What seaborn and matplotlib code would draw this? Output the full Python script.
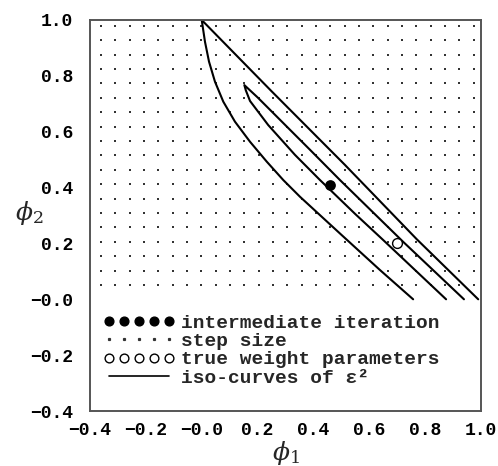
import numpy as np
import pandas as pd
import matplotlib
matplotlib.use("Agg")
import matplotlib.pyplot as plt
from matplotlib.lines import Line2D
from matplotlib.ticker import FixedLocator, FixedFormatter, MultipleLocator
import seaborn as sns

# lattice of candidate steps in the (phi1, phi2) plane
grid_phi1 = np.linspace(-0.361, 0.974, 27)
grid_phi2 = np.linspace(0.051, 0.979, 19)

# iso-curves of the squared error, traced as polylines
outer_phi1 = [0.757, 0.638, 0.50, 0.352, 0.292, 0.2327, 0.173, 0.119, 0.0773,
              0.0475, 0.0261, 0.0117, 0.0, 0.25, 0.513, 0.77, 0.99]
outer_phi2 = [0.0, 0.105, 0.231, 0.367, 0.427, 0.493, 0.564, 0.636, 0.7075,
              0.779, 0.851, 0.922, 1.0, 0.745, 0.481, 0.215, 0.0]
inner_phi1 = [0.939, 0.72, 0.495, 0.388, 0.20, 0.1526, 0.158, 0.173, 0.238,
              0.334, 0.4235, 0.55, 0.65, 0.875]
inner_phi2 = [0.0, 0.207, 0.427, 0.535, 0.723, 0.767, 0.748, 0.71, 0.624,
              0.517, 0.427, 0.305, 0.212, 0.0]

# current estimate and the true AR(2) weights
iterate_phi1, iterate_phi2 = [0.46], [0.41]
true_phi1, true_phi2 = [0.70], [0.20]

tick_values = [-0.4, -0.2, 0.0, 0.2, 0.4, 0.6, 0.8, 1.0]
tick_labels = ["\u22120.4", "\u22120.2", "\u22120.0", "0.2", "0.4", "0.6", "0.8", "1.0"]

legend_labels = ["intermediate iteration", "step size",
                 "true weight parameters", "iso-curves of \u03b5\u00b2"]

sns.set_theme(style="white")
plt.rcParams["font.family"] = ["Liberation Mono", "DejaVu Sans"]
plt.rcParams["mathtext.fontset"] = "dejavuserif"

fig = plt.figure(figsize=(4.98, 4.66), dpi=100)
ax = fig.add_axes([90 / 498, 55 / 466, 391 / 498, 391 / 466])

gx, gy = np.meshgrid(grid_phi1, grid_phi2)
grid_df = pd.DataFrame({"phi1": gx.ravel(), "phi2": gy.ravel()})
sns.scatterplot(data=grid_df, x="phi1", y="phi2", s=2.2, color="#333333",
                linewidth=0, marker="s", ax=ax, legend=False)

curves = pd.concat([
    pd.DataFrame({"phi1": outer_phi1, "phi2": outer_phi2, "curve": "outer"}),
    pd.DataFrame({"phi1": inner_phi1, "phi2": inner_phi2, "curve": "inner"}),
])
sns.lineplot(data=curves, x="phi1", y="phi2", units="curve", estimator=None,
             sort=False, color="black", linewidth=1.5, ax=ax, legend=False)

sns.scatterplot(x=iterate_phi1, y=iterate_phi2, s=60, color="black",
                linewidth=0, ax=ax, legend=False, zorder=5)
sns.scatterplot(x=true_phi1, y=true_phi2, s=50, facecolor="white",
                edgecolor="black", linewidth=1.0, ax=ax, legend=False, zorder=5)

ax.set_xlim(-0.4, 1.0)
ax.set_ylim(-0.4, 1.0)
for axis in (ax.xaxis, ax.yaxis):
    axis.set_major_locator(FixedLocator(tick_values))
    axis.set_major_formatter(FixedFormatter(tick_labels))
    axis.set_minor_locator(MultipleLocator(0.04))
ax.tick_params(which="both", direction="out", color="#444444", width=1.0,
               top=False, right=False, labelsize=13, labelcolor="black")
ax.tick_params(which="major", length=6, pad=2)
ax.tick_params(axis="y", which="major", pad=6)
ax.tick_params(which="minor", length=3.6)
for lab in ax.get_xticklabels() + ax.get_yticklabels():
    lab.set_fontweight("bold")
for sp in ax.spines.values():
    sp.set_color("#555555")
    sp.set_linewidth(1.4)

ax.set_xlabel(r"$\phi_1$", fontsize=18, va="top")
ax.set_ylabel(r"$\phi_2$", fontsize=18, rotation=0, va="center", ha="center")
ax.xaxis.set_label_coords(0.5, -0.072)
ax.yaxis.set_label_coords(-0.156, 0.506)

handles = [
    Line2D([], [], ls="none", marker="o", ms=6.3, mfc="black", mec="black"),
    Line2D([], [], ls="none", marker="s", ms=1.3, mfc="#333333", mec="#333333"),
    Line2D([], [], ls="none", marker="o", ms=6.3, mfc="white", mec="black", mew=1.0),
    Line2D([], [], color="black", lw=1.2),
]
ax.legend(handles, legend_labels, loc="upper left", bbox_to_anchor=(0.0325, 0.248),
          frameon=False, numpoints=5, handlelength=3.69,
          prop={"family": ["Liberation Mono", "DejaVu Sans"], "weight": "bold", "size": 14},
          handletextpad=0.35, borderpad=0, borderaxespad=0, labelspacing=0.04)

fig.savefig("out.png", dpi=100)
